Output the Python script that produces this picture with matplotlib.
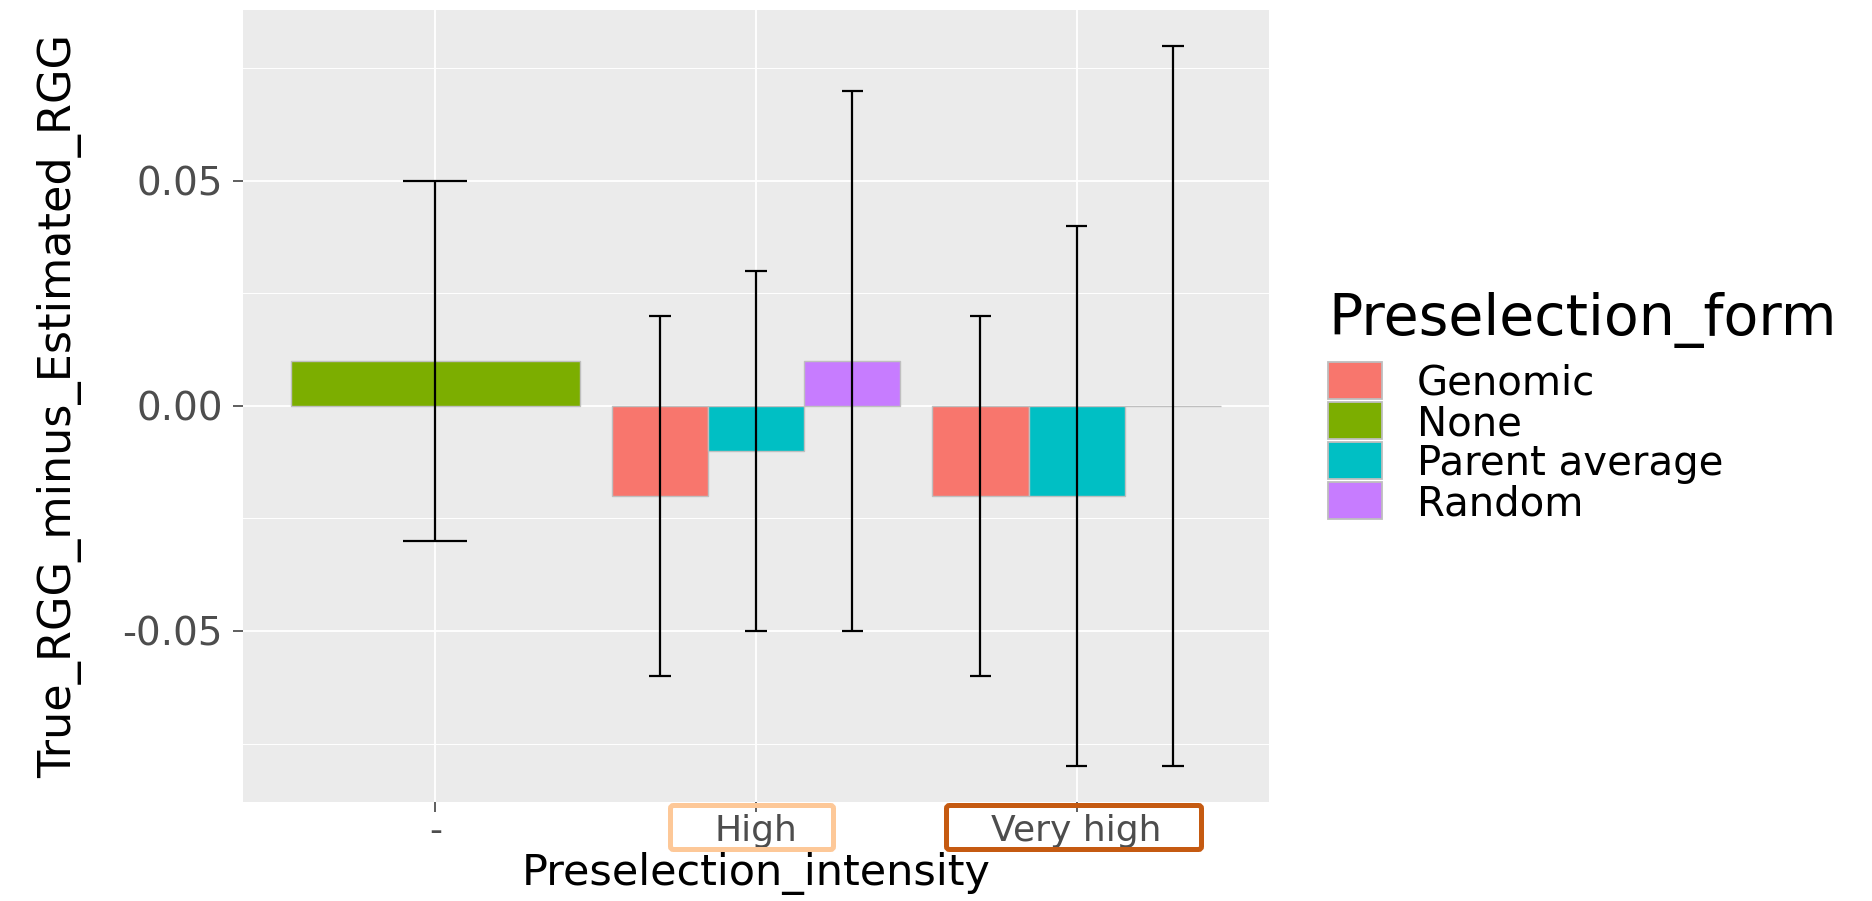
import numpy as np
import matplotlib.pyplot as plt
from matplotlib.patches import Rectangle, FancyBboxPatch
from matplotlib.transforms import IdentityTransform

plt.rcParams['font.family'] = 'DejaVu Sans'
plt.rcParams['axes.unicode_minus'] = False

intensity = ['-', 'High', 'Very high']
forms = ['Genomic', 'None', 'Parent average', 'Random']
colors = ['#F8766D', '#7CAE00', '#00BFC4', '#C77CFF']

# mean, lower, upper per intensity (nan = no bar in that group)
gen_mean = [np.nan, -0.02, -0.02]
gen_lo = [np.nan, -0.06, -0.06]
gen_hi = [np.nan, 0.02, 0.02]
none_mean = [0.01, np.nan, np.nan]
none_lo = [-0.03, np.nan, np.nan]
none_hi = [0.05, np.nan, np.nan]
pa_mean = [np.nan, -0.01, -0.02]
pa_lo = [np.nan, -0.05, -0.08]
pa_hi = [np.nan, 0.03, 0.04]
rnd_mean = [np.nan, 0.01, 0.0]
rnd_lo = [np.nan, -0.05, -0.08]
rnd_hi = [np.nan, 0.07, 0.08]

means = [gen_mean, none_mean, pa_mean, rnd_mean]
lows = [gen_lo, none_lo, pa_lo, rnd_lo]
highs = [gen_hi, none_hi, pa_hi, rnd_hi]

W, H = 1872, 901
fig = plt.figure(figsize=(W/100, H/100), dpi=100)
ax = fig.add_axes([243/W, 1-802/H, 1026/W, 792/H])
ax.set_facecolor('#EBEBEB')
for s in ax.spines.values():
    s.set_visible(False)

for g in range(len(intensity)):
    present = [k for k in range(len(forms)) if not np.isnan(means[k][g])]
    n = len(present)
    w = 0.9/n
    cw = 0.2/n
    for j, k in enumerate(present):
        x = g+1 + (j-(n-1)/2)*w
        ax.bar(x, means[k][g], width=w, color=colors[k], edgecolor='#BFBFBF', lw=1.0, zorder=2)
        ax.vlines(x, lows[k][g], highs[k][g], color='black', lw=1.6, zorder=3)
        ax.hlines([lows[k][g], highs[k][g]], x-cw/2, x+cw/2, color='black', lw=1.6, zorder=3)

ax.set_xlim(0.4, 3.6)
ax.set_ylim(-0.088, 0.088)
ax.set_xticks([1, 2, 3], intensity)
ax.set_yticks([-0.05, 0, 0.05], ['-0.05', '0.00', '0.05'])
ax.set_yticks([-0.075, -0.025, 0.025, 0.075], minor=True)
ax.grid(which='major', color='white', lw=1.3)
ax.grid(which='minor', axis='y', color='white', lw=0.7)
ax.set_axisbelow(True)
ax.tick_params(which='major', length=7.2, width=1.1, color='#333333', labelcolor='#4D4D4D')
ax.tick_params(axis='y', pad=7.2, labelsize=28)
ax.tick_params(axis='x', pad=1.5, labelsize=26)
ax.tick_params(which='minor', length=0)

ax.set_xlabel('Preselection_intensity', fontsize=31, va='baseline')
ax.xaxis.set_label_coords(0.5, (802-885)/792)
ax.set_ylabel('True_RGG_minus_Estimated_RGG', fontsize=32, va='center')
ax.yaxis.set_label_coords((60-243)/1026, 0.5)

# legend
fig.text(1328/W, 1-335/H, 'Preselection_form', fontsize=41, ha='left', va='baseline')
for i, name in enumerate(forms):
    top = 362 + 40*i
    r = Rectangle((1328/W, 1-(top+37)/H), 54/W, 37/H, transform=fig.transFigure,
                  facecolor=colors[i], edgecolor='#BEBEBE', lw=1.3)
    fig.add_artist(r)
    fig.text(1417/W, 1-(top+18.5+14.5)/H, name, fontsize=29, ha='left', va='baseline')

# highlight boxes around tick labels
for x0, x1, c in [(668, 836, '#FDC898'), (944, 1204, '#C55A11')]:
    b = FancyBboxPatch((x0+2.5, H-849.5), x1-x0-5, 44, boxstyle='round,pad=0,rounding_size=3',
                       transform=IdentityTransform(), facecolor='none', edgecolor=c, lw=3.6)
    fig.add_artist(b)

fig.savefig('out.png', dpi=100)
